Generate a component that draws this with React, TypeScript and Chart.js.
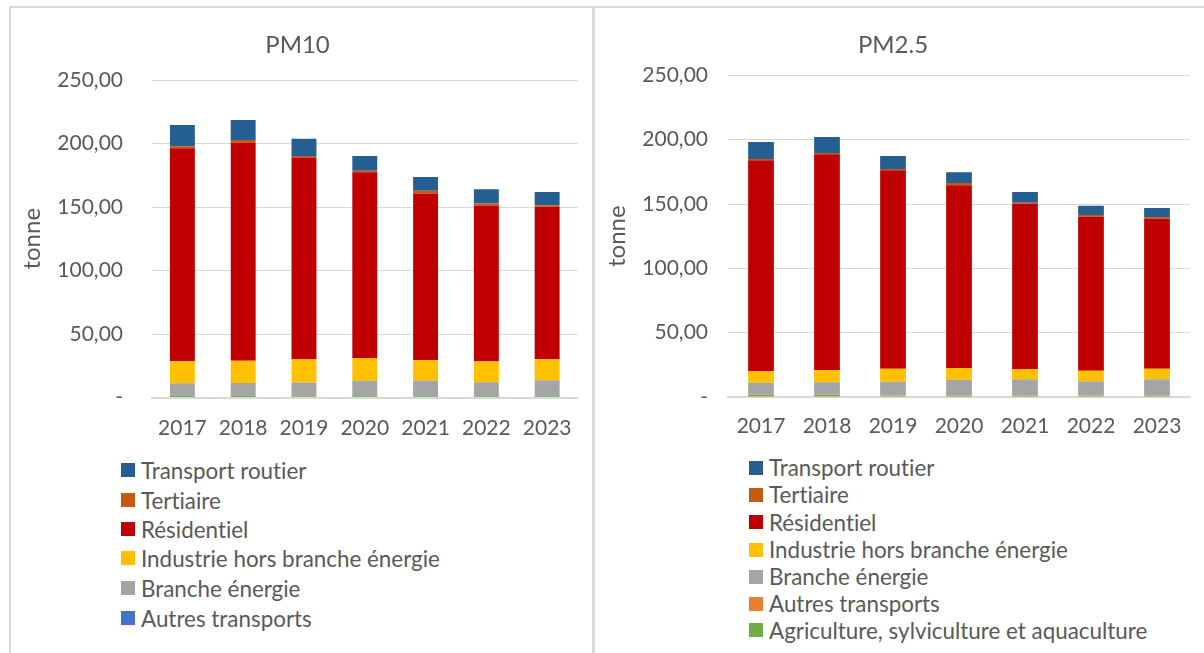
import React, { useEffect, useRef } from "react";
import { Chart, registerables } from "chart.js";

Chart.register(...registerables);

const years = ["2017", "2018", "2019", "2020", "2021", "2022", "2023"];
const yTicks = [0, 50, 100, 150, 200, 250];

// PM10 (tonne)
const pm10Agriculture = [1.5, 1.5, 1.0, 1.0, 1.0, 1.0, 1.0];
const pm10AutresTransports = [0.3, 0.3, 0.2, 0.2, 0.2, 0.2, 0.2];
const pm10BrancheEnergie = [9.4, 9.7, 10.6, 11.9, 12.2, 10.9, 12.4];
const pm10Industrie = [17.6, 17.4, 18.6, 18.1, 16.0, 16.3, 16.6];
const pm10Residentiel = [167.4, 171.9, 158.6, 146.2, 131.2, 122.7, 119.9];
const pm10Tertiaire = [1.6, 1.9, 1.1, 1.1, 2.1, 1.6, 1.3];
const pm10TransportRoutier = [16.8, 15.8, 13.6, 11.6, 11.0, 11.3, 10.5];

// PM2.5 (tonne)
const pm25Agriculture = [1.5, 1.5, 0.8, 0.8, 0.8, 0.8, 0.8];
const pm25AutresTransports = [0.2, 0.2, 0.2, 0.2, 0.2, 0.2, 0.2];
const pm25BrancheEnergie = [9.3, 9.7, 10.8, 12.4, 12.7, 11.1, 12.7];
const pm25Industrie = [9.1, 9.3, 10.1, 9.1, 8.0, 8.3, 8.2];
const pm25Residentiel = [163.9, 167.9, 154.3, 142.0, 128.5, 119.7, 116.7];
const pm25Tertiaire = [1.0, 1.0, 1.0, 1.8, 0.8, 1.3, 1.3];
const pm25TransportRoutier = [13.2, 12.5, 10.1, 8.3, 8.3, 7.3, 7.0];

const TEXT = "#595959";
const GRID = "#d9d9d9";
const FONT = "Lato";

type Series = { label: string; data: number[]; color: string; inLegend: boolean };

const pm10Series: Series[] = [
  { label: "Agriculture, sylviculture et aquaculture", data: pm10Agriculture, color: "#70AD47", inLegend: false },
  { label: "Autres transports", data: pm10AutresTransports, color: "#4472C4", inLegend: true },
  { label: "Branche énergie", data: pm10BrancheEnergie, color: "#A5A5A5", inLegend: true },
  { label: "Industrie hors branche énergie", data: pm10Industrie, color: "#FFC000", inLegend: true },
  { label: "Résidentiel", data: pm10Residentiel, color: "#C00000", inLegend: true },
  { label: "Tertiaire", data: pm10Tertiaire, color: "#C55A11", inLegend: true },
  { label: "Transport routier", data: pm10TransportRoutier, color: "#255E91", inLegend: true },
];

const pm25Series: Series[] = [
  { label: "Agriculture, sylviculture et aquaculture", data: pm25Agriculture, color: "#70AD47", inLegend: true },
  { label: "Autres transports", data: pm25AutresTransports, color: "#ED7D31", inLegend: true },
  { label: "Branche énergie", data: pm25BrancheEnergie, color: "#A5A5A5", inLegend: true },
  { label: "Industrie hors branche énergie", data: pm25Industrie, color: "#FFC000", inLegend: true },
  { label: "Résidentiel", data: pm25Residentiel, color: "#C00000", inLegend: true },
  { label: "Tertiaire", data: pm25Tertiaire, color: "#C55A11", inLegend: true },
  { label: "Transport routier", data: pm25TransportRoutier, color: "#255E91", inLegend: true },
];

const fmt = (v: number) => (v === 0 ? "-" : v.toFixed(2).replace(".", ","));

type PanelProps = {
  title: string;
  series: Series[];
  left: number;
  width: number;
  height: number;
  yAxisWidth: number;
  rightPad: number;
  titleBottom: number;
  xAxisHeight: number;
  xTickPad: number;
  yTickPad: number;
  yTitlePad: number;
  barPct: number;
};

function StackedChart(p: PanelProps) {
  const ref = useRef<HTMLCanvasElement | null>(null);
  useEffect(() => {
    if (!ref.current) return;
    const chart = new Chart(ref.current, {
      type: "bar",
      data: {
        labels: years,
        datasets: p.series.map((s) => ({
          label: s.label,
          data: s.data,
          backgroundColor: s.color,
          borderWidth: 0,
          categoryPercentage: 1,
          barPercentage: p.barPct,
        })),
      },
      options: {
        responsive: false,
        animation: false,
        layout: { padding: { left: 0, right: p.rightPad, top: 0, bottom: 0 } },
        plugins: {
          legend: { display: false },
          tooltip: { enabled: false },
          title: {
            display: true,
            text: p.title,
            color: TEXT,
            font: { family: FONT, size: 24, weight: "normal", lineHeight: 1.2 },
            padding: { top: 22.6, bottom: p.titleBottom },
          },
        },
        scales: {
          x: {
            stacked: true,
            grid: { display: false, drawTicks: false },
            border: { display: true, color: GRID, width: 2 },
            ticks: { color: TEXT, font: { family: FONT, size: 21 }, padding: p.xTickPad, maxRotation: 0 },
            afterFit: (scale: any) => {
              scale.height = p.xAxisHeight;
            },
          },
          y: {
            stacked: true,
            min: 0,
            max: 250,
            afterBuildTicks: (scale: any) => {
              scale.ticks = yTicks.map((v) => ({ value: v }));
            },
            grid: { color: GRID, lineWidth: 1, drawTicks: false },
            border: { display: false },
            ticks: {
              color: TEXT,
              font: { family: FONT, size: 21 },
              padding: p.yTickPad,
              callback: (v: any) => fmt(Number(v)),
            },
            title: {
              display: true,
              text: "tonne",
              color: TEXT,
              font: { family: FONT, size: 24, lineHeight: 1.2 },
              padding: { top: p.yTitlePad, bottom: 0 },
            },
            afterFit: (scale: any) => {
              scale.width = p.yAxisWidth;
            },
          },
        },
      },
    });
    return () => chart.destroy();
  }, []);
  return (
    <canvas
      ref={ref}
      width={p.width}
      height={p.height}
      style={{ position: "absolute", left: p.left, top: 8, width: p.width, height: p.height }}
    />
  );
}

function Legend({ items, left, tops }: { items: Series[]; left: number; tops: number[] }) {
  return (
    <>
      {items.map((s, i) => (
        <div
          key={s.label}
          style={{
            position: "absolute",
            left,
            top: tops[i] - 13,
            height: 26,
            display: "flex",
            alignItems: "center",
            whiteSpace: "nowrap",
            fontFamily: FONT,
            fontSize: 22.4,
            fontVariantLigatures: "none",
            color: TEXT,
          }}
        >
          <span style={{ display: "inline-block", width: 14, height: 14, background: s.color, marginRight: 6 }} />
          <span>{s.label}</span>
        </div>
      ))}
    </>
  );
}

export default function App() {
  const pm10Legend = [...pm10Series].reverse().filter((s) => s.inLegend);
  const pm25Legend = [...pm25Series].reverse().filter((s) => s.inLegend);
  return (
    <div style={{ position: "fixed", left: 0, top: 0, width: 1204, height: 653, background: "#fff", overflow: "hidden" }}>
      <div style={{ position: "absolute", left: 9, top: 6, width: 1195, height: 2, background: GRID }} />
      <div style={{ position: "absolute", left: 9, top: 6, width: 2, height: 647, background: GRID }} />
      <div style={{ position: "absolute", left: 592, top: 6, width: 3, height: 647, background: GRID }} />
      <StackedChart
        title="PM10"
        series={pm10Series}
        left={12}
        width={578}
        height={437}
        yAxisWidth={140}
        rightPad={7}
        titleBottom={20.6}
        xAxisHeight={47.5}
        xTickPad={18}
        yTickPad={29}
        yTitlePad={5.6}
        barPct={0.41}
      />
      <StackedChart
        title="PM2.5"
        series={pm25Series}
        left={596}
        width={608}
        height={437}
        yAxisWidth={132}
        rightPad={14}
        titleBottom={16}
        xAxisHeight={48.1}
        xTickPad={17}
        yTickPad={20}
        yTitlePad={6.6}
        barPct={0.39}
      />
      <Legend items={pm10Legend} left={121} tops={[470, 500, 529, 558, 588, 618]} />
      <Legend items={pm25Legend} left={749} tops={[467.5, 494.5, 522, 549.5, 576.5, 603.5, 630]} />
    </div>
  );
}
